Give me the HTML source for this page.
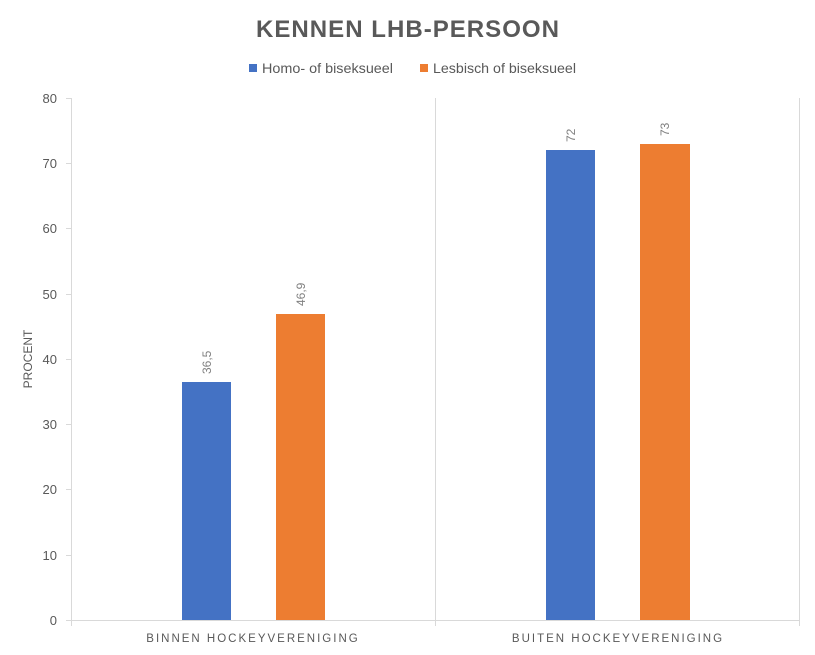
<!DOCTYPE html>
<html><head><meta charset="utf-8"><style>
body{margin:0;background:#fff;}
svg{display:block;font-family:"Liberation Sans",sans-serif;}
</style></head><body>
<svg width="815" height="655" viewBox="0 0 815 655">
<rect width="815" height="655" fill="#fff"/>
<text x="408" y="37" text-anchor="middle" font-size="24" font-weight="bold" fill="#595959" letter-spacing="1" textLength="304" lengthAdjust="spacingAndGlyphs">KENNEN LHB-PERSOON</text>
<rect x="249" y="64" width="8" height="8" fill="#4472c4"/>
<text x="262" y="73" font-size="14" fill="#595959" textLength="131" lengthAdjust="spacingAndGlyphs">Homo- of biseksueel</text>
<rect x="420" y="64" width="8" height="8" fill="#ed7d31"/>
<text x="433" y="73" font-size="14" fill="#595959" textLength="143" lengthAdjust="spacingAndGlyphs">Lesbisch of biseksueel</text>
<g stroke="#d9d9d9" stroke-width="1">
<line x1="71.5" y1="98" x2="71.5" y2="626"/>
<line x1="435.5" y1="98" x2="435.5" y2="626"/>
<line x1="799.5" y1="98" x2="799.5" y2="626"/>
<line x1="71" y1="620.5" x2="799" y2="620.5"/>
<line x1="66" y1="98.5" x2="71" y2="98.5"/><line x1="66" y1="163.5" x2="71" y2="163.5"/>
<line x1="66" y1="228.5" x2="71" y2="228.5"/><line x1="66" y1="294.5" x2="71" y2="294.5"/>
<line x1="66" y1="359.5" x2="71" y2="359.5"/><line x1="66" y1="424.5" x2="71" y2="424.5"/>
<line x1="66" y1="489.5" x2="71" y2="489.5"/><line x1="66" y1="555.5" x2="71" y2="555.5"/>
<line x1="66" y1="620.5" x2="71" y2="620.5"/>
</g>
<g font-size="13" fill="#595959" text-anchor="end">
<text x="57" y="103">80</text><text x="57" y="168">70</text><text x="57" y="233">60</text>
<text x="57" y="299">50</text><text x="57" y="364">40</text><text x="57" y="429">30</text>
<text x="57" y="494">20</text><text x="57" y="560">10</text><text x="57" y="625">0</text>
</g>
<text transform="translate(32,359) rotate(-90)" text-anchor="middle" font-size="12" fill="#595959">PROCENT</text>
<rect x="182" y="382" width="49" height="238" fill="#4472c4"/>
<rect x="276" y="314" width="49" height="306" fill="#ed7d31"/>
<rect x="546" y="150" width="49" height="470" fill="#4472c4"/>
<rect x="640" y="144" width="50" height="476" fill="#ed7d31"/>
<g font-size="12" fill="#7f7f7f">
<text transform="translate(211,374) rotate(-90)">36,5</text>
<text transform="translate(305,306) rotate(-90)">46,9</text>
<text transform="translate(575,142) rotate(-90)">72</text>
<text transform="translate(669,136) rotate(-90)">73</text>
</g>
<g font-size="11.5" fill="#595959" text-anchor="middle" letter-spacing="2">
<text x="253" y="642">BINNEN HOCKEYVERENIGING</text>
<text x="618" y="642">BUITEN HOCKEYVERENIGING</text>
</g>
</svg>
</body></html>
